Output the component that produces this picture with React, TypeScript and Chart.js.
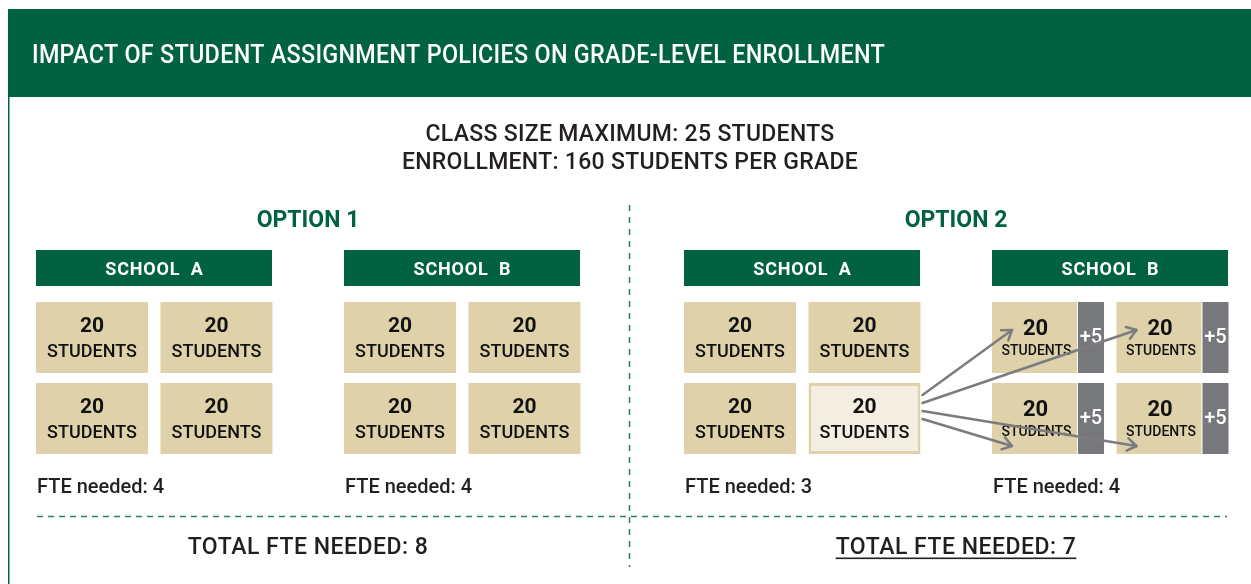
import React, { useEffect, useRef } from "react";
import { Chart, registerables } from "chart.js";

Chart.register(...registerables);

// ---------- content / data ----------
const TITLE = "IMPACT OF STUDENT ASSIGNMENT POLICIES ON GRADE-LEVEL ENROLLMENT";
const SUBTITLE_LINES = ["CLASS SIZE MAXIMUM: 25 STUDENTS", "ENROLLMENT: 160 STUDENTS PER GRADE"];
const OPTIONS = ["OPTION 1", "OPTION 2"];
const SCHOOLS = ["SCHOOL  A", "SCHOOL  B"];
// students per classroom: [option][school][classroom]
const CLASS_STUDENTS = [
  [[20, 20, 20, 20], [20, 20, 20, 20]],
  [[20, 20, 20, 20], [20, 20, 20, 20]],
];
// students added to a classroom by reassignment: [option][school][classroom]
const ADDED_STUDENTS = [
  [[0, 0, 0, 0], [0, 0, 0, 0]],
  [[0, 0, 0, 0], [5, 5, 5, 5]],
];
// classroom whose students are reassigned: [option][school][classroom]
const REASSIGNED = [
  [[false, false, false, false], [false, false, false, false]],
  [[false, false, false, true], [false, false, false, false]],
];
const FTE_NEEDED = [[4, 4], [3, 4]];
const TOTAL_FTE = [8, 7];
const PREFERRED_OPTION = 1;
const UNIT_LABEL = "STUDENTS";
const FTE_LABEL = "FTE needed: ";
const TOTAL_LABEL = "TOTAL FTE NEEDED: ";

// ---------- layout & style ----------
const W = 1251;
const H = 584;
const FONT = "Roboto, 'DejaVu Sans', sans-serif";
const GREEN = "#006241";
const DASH_GREEN = "#2a7f5f";
const DARK = "#231f20";
const TAN = "#dfd1aa";
const LIGHT = "#f4ede1";
const GRAY = "#77787b";
const ARROW = "#7b7c7f";

const OPTION_LEFT = [36, 684];
const SCHOOL_STEP = 307.5;
const COL_STEP = 124.5;
const ROW_TOPS = [302, 383];
const BOX_W = 112;
const BOX_H = 71;
const BASE_W = 85;
const ADD_W = 26;
const HEADER_W = 236;

const schoolLeft = (o: number, s: number) => Math.round(OPTION_LEFT[o] + s * SCHOOL_STEP);
const optionCenter = (o: number) => (OPTION_LEFT[o] + schoolLeft(o, 1) + HEADER_W) / 2;

type Cell = { x: number; y: [number, number]; students: number; added: number; o: number; s: number; c: number };

const regular: Cell[] = [];
const reassigned: Cell[] = [];
const receiving: Cell[] = [];
const addedBars: Cell[] = [];

OPTIONS.forEach((_, o) => {
  SCHOOLS.forEach((_, s) => {
    CLASS_STUDENTS[o][s].forEach((students, c) => {
      const left = schoolLeft(o, s) + (c % 2) * COL_STEP;
      const top = ROW_TOPS[Math.floor(c / 2)];
      const added = ADDED_STUDENTS[o][s][c];
      const y: [number, number] = [top, top + BOX_H];
      if (added > 0) {
        receiving.push({ x: left + BASE_W / 2, y, students, added, o, s, c });
        addedBars.push({ x: left + BASE_W + 1 + ADD_W / 2, y, students, added, o, s, c });
      } else if (REASSIGNED[o][s][c]) {
        reassigned.push({ x: left + BOX_W / 2, y, students, added, o, s, c });
      } else {
        regular.push({ x: left + BOX_W / 2, y, students, added, o, s, c });
      }
    });
  });
});

function drawText(
  ctx: CanvasRenderingContext2D,
  t: string,
  x: number,
  y: number,
  font: string,
  color: string,
  align: CanvasTextAlign,
  spacing = "0px",
  maxWidth?: number
) {
  ctx.font = font;
  ctx.fillStyle = color;
  ctx.textAlign = align;
  ctx.textBaseline = "alphabetic";
  (ctx as any).letterSpacing = spacing;
  if (maxWidth) ctx.fillText(t, x, y, maxWidth);
  else ctx.fillText(t, x, y);
  (ctx as any).letterSpacing = "0px";
}

const infographic = {
  id: "infographic",
  beforeDatasetsDraw(chart: any) {
    const { ctx } = chart;
    const X = (v: number) => chart.scales.x.getPixelForValue(v);
    const Y = (v: number) => chart.scales.y.getPixelForValue(v);
    ctx.save();
    // header band and left rule
    ctx.fillStyle = GREEN;
    ctx.fillRect(X(8), Y(9), X(W) - X(8), Y(97) - Y(9));
    ctx.fillRect(X(8), Y(97), 1.5, Y(H) - Y(97));
    drawText(ctx, TITLE, X(32), Y(63), `500 25px ${FONT}`, "#ffffff", "left", "0.3px", X(885) - X(32));

    SUBTITLE_LINES.forEach((t, i) =>
      drawText(ctx, t, X(630), Y(141 + i * 28), `500 23px ${FONT}`, DARK, "center", "0.3px")
    );

    OPTIONS.forEach((opt, o) => {
      const oc = optionCenter(o);
      drawText(ctx, opt, X(oc), Y(227), `bold 23px ${FONT}`, GREEN, "center");
      SCHOOLS.forEach((sc, s) => {
        const left = schoolLeft(o, s);
        ctx.fillStyle = GREEN;
        ctx.fillRect(X(left), Y(250), X(left + HEADER_W) - X(left), Y(286) - Y(250));
        drawText(ctx, sc, X(left + HEADER_W / 2 + 0.5), Y(275), `bold 18px ${FONT}`, "#ffffff", "center", "0.8px");
        drawText(ctx, FTE_LABEL + FTE_NEEDED[o][s], X(left + 1), Y(493), `500 20px ${FONT}`, DARK, "left");
      });
      const total = TOTAL_LABEL + TOTAL_FTE[o];
      drawText(ctx, total, X(oc), Y(554), `500 23px ${FONT}`, DARK, "center", "0.5px");
      if (o === PREFERRED_OPTION) {
        ctx.font = `500 23px ${FONT}`;
        (ctx as any).letterSpacing = "0.5px";
        const w = ctx.measureText(total).width;
        (ctx as any).letterSpacing = "0px";
        ctx.fillStyle = DARK;
        ctx.fillRect(X(oc) - w / 2, Y(557.5), w, 1.6);
      }
    });

    // dashed dividers
    ctx.strokeStyle = DASH_GREEN;
    ctx.lineWidth = 1.5;
    ctx.setLineDash([6, 5]);
    ctx.beginPath();
    ctx.moveTo(X(37), Y(516.5));
    ctx.lineTo(X(1227), Y(516.5));
    ctx.stroke();
    ctx.setLineDash([6, 6]);
    ctx.beginPath();
    ctx.moveTo(X(629.5), Y(205));
    ctx.lineTo(X(629.5), Y(567));
    ctx.stroke();
    ctx.restore();
  },
  afterDatasetsDraw(chart: any) {
    const { ctx } = chart;
    ctx.save();
    const labelSets: Array<{ idx: number; small: boolean }> = [
      { idx: 0, small: false },
      { idx: 1, small: false },
      { idx: 2, small: true },
    ];
    labelSets.forEach(({ idx, small }) => {
      const meta = chart.getDatasetMeta(idx);
      meta.data.forEach((el: any, j: number) => {
        const cell: Cell = chart.data.datasets[idx].data[j];
        const top = Math.min(el.y, el.base);
        if (small) {
          drawText(ctx, String(cell.students), el.x + 1, top + 33, `bold 22px ${FONT}`, "#111111", "center");
          drawText(ctx, UNIT_LABEL, el.x + 2, top + 53, `500 14px ${FONT}`, "#111111", "center");
        } else {
          drawText(ctx, String(cell.students), el.x, top + 30, `bold 21px ${FONT}`, "#111111", "center");
          drawText(ctx, UNIT_LABEL, el.x, top + 55, `500 18px ${FONT}`, "#111111", "center");
        }
      });
    });
    const addMeta = chart.getDatasetMeta(3);
    addMeta.data.forEach((el: any, j: number) => {
      const cell: Cell = chart.data.datasets[3].data[j];
      const top = Math.min(el.y, el.base);
      drawText(ctx, "+" + cell.added, el.x, top + 41, `500 20px ${FONT}`, "#ffffff", "center");
    });

    // arrows: reassigned classroom -> receiving classrooms
    const srcMeta = chart.getDatasetMeta(1);
    const recMeta = chart.getDatasetMeta(2);
    srcMeta.data.forEach((src: any, si: number) => {
      const sCell: Cell = chart.data.datasets[1].data[si];
      const sTop = Math.min(src.y, src.base);
      const sx = src.x + src.width / 2 + 2;
      const sCy = (src.y + src.base) / 2;
      const targets = recMeta.data
        .map((el: any, j: number) => {
          const cell: Cell = chart.data.datasets[2].data[j];
          if (cell.o !== sCell.o) return null;
          const t = Math.min(el.y, el.base);
          const cy = (el.y + el.base) / 2;
          const tx = el.x - el.width / 2 + 20;
          const ty = cy < sCy ? t + 28 : t + 63;
          return { tx, ty };
        })
        .filter(Boolean) as Array<{ tx: number; ty: number }>;
      targets.sort((a, b) => Math.atan2(a.ty - sCy, a.tx - sx) - Math.atan2(b.ty - sCy, b.tx - sx));
      ctx.strokeStyle = ARROW;
      ctx.lineWidth = 2.5;
      ctx.lineCap = "round";
      ctx.lineJoin = "round";
      targets.forEach((t, k) => {
        const sy = sTop + 12 + k * 8;
        const ang = Math.atan2(t.ty - sy, t.tx - sx);
        ctx.beginPath();
        ctx.moveTo(sx, sy);
        ctx.lineTo(t.tx, t.ty);
        ctx.stroke();
        const hl = 11;
        const ha = 0.6;
        ctx.beginPath();
        ctx.moveTo(t.tx - hl * Math.cos(ang - ha), t.ty - hl * Math.sin(ang - ha));
        ctx.lineTo(t.tx, t.ty);
        ctx.lineTo(t.tx - hl * Math.cos(ang + ha), t.ty - hl * Math.sin(ang + ha));
        ctx.stroke();
      });
    });
    ctx.restore();
  },
};

export default function App() {
  const ref = useRef<HTMLCanvasElement | null>(null);
  useEffect(() => {
    if (!ref.current) return;
    const barBase = {
      type: "bar" as const,
      grouped: false,
      borderSkipped: false,
      inflateAmount: 0,
    };
    const chart = new Chart(ref.current, {
      type: "bar",
      data: {
        datasets: [
          { ...barBase, label: "Classrooms", data: regular as any, backgroundColor: TAN, borderWidth: 0, barThickness: BOX_W },
          {
            ...barBase,
            label: "Reassigned classroom",
            data: reassigned as any,
            backgroundColor: LIGHT,
            borderColor: TAN,
            borderWidth: 3,
            barThickness: BOX_W,
          },
          { ...barBase, label: "Receiving classrooms", data: receiving as any, backgroundColor: TAN, borderWidth: 0, barThickness: BASE_W },
          { ...barBase, label: "Added students", data: addedBars as any, backgroundColor: GRAY, borderWidth: 0, barThickness: ADD_W },
        ],
      },
      options: {
        responsive: false,
        maintainAspectRatio: false,
        devicePixelRatio: 1,
        animation: false,
        events: [],
        layout: { padding: 0 },
        plugins: { legend: { display: false }, tooltip: { enabled: false }, title: { display: false } },
        scales: {
          x: { type: "linear", min: 0, max: W, display: false, offset: false },
          y: { type: "linear", min: 0, max: H, reverse: true, display: false, offset: false },
        },
      },
      plugins: [infographic],
    });
    return () => chart.destroy();
  }, []);
  return (
    <div style={{ position: "absolute", left: 0, top: 0, width: W, height: H, background: "#ffffff" }}>
      <canvas ref={ref} width={W} height={H} style={{ display: "block", width: W, height: H }} />
    </div>
  );
}
